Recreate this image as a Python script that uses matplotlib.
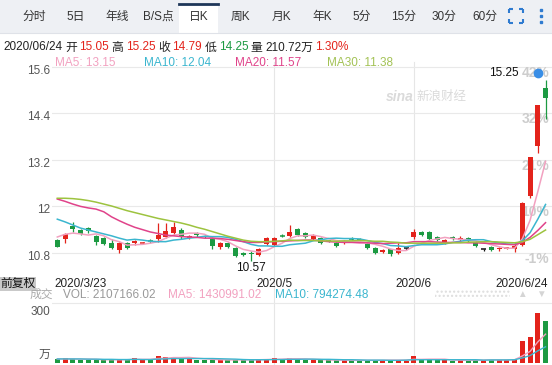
import matplotlib.pyplot as plt
import matplotlib.patches as patches
import matplotlib.transforms as mtransforms
import numpy as np

plt.rcParams['font.family'] = ['Liberation Sans', 'Noto Sans CJK SC', 'DejaVu Sans']

# Données (cours journaliers, 2020/3/23 -> 2020/6/24)
ouverture = [11.12, 11.15, 11.48, 11.38, 11.43, 11.23, 11.17, 11.05, 10.86, 11.05,
             11.05, 11.05, 11.11, 11.15, 11.20, 11.30, 11.38, 11.17, 11.30, 11.22,
             11.15, 10.94, 11.05, 10.92, 10.79, 10.80, 10.74, 11.02, 11.00, 11.24,
             11.23, 11.40, 11.30, 11.15, 11.17, 11.10, 11.05, 11.05, 11.16, 11.15,
             11.02, 10.92, 10.81, 10.89, 10.79, 10.92, 11.20, 11.33, 11.33, 11.20,
             11.05, 11.20, 11.12, 11.17, 11.05, 10.89, 10.94, 10.89, 10.91, 10.89,
             11.00, 12.25, 13.55, 15.05]
haut = [11.15, 11.30, 11.60, 11.40, 11.46, 11.25, 11.20, 11.15, 11.07, 11.08,
        11.12, 11.08, 11.15, 11.56, 11.56, 11.58, 11.42, 11.25, 11.33, 11.26,
        11.20, 11.07, 11.07, 10.95, 10.81, 10.85, 10.92, 11.20, 11.20, 11.28,
        11.51, 11.42, 11.32, 11.28, 11.19, 11.12, 11.07, 11.12, 11.20, 11.17,
        11.05, 10.93, 10.88, 10.90, 11.05, 10.92, 11.40, 11.36, 11.35, 11.22,
        11.14, 11.23, 11.22, 11.20, 11.10, 10.89, 10.97, 10.94, 10.94, 11.07,
        12.10, 13.27, 14.60, 15.25]
bas = [10.93, 11.05, 11.33, 11.25, 11.30, 10.99, 11.00, 10.90, 10.80, 10.88,
       10.99, 11.03, 11.05, 11.07, 11.18, 11.25, 11.15, 11.15, 11.20, 11.17,
       10.90, 10.89, 10.92, 10.69, 10.72, 10.57, 10.70, 11.00, 10.97, 11.19,
       11.20, 11.22, 11.18, 11.13, 11.02, 11.07, 10.95, 11.03, 11.12, 11.08,
       10.90, 10.76, 10.79, 10.71, 10.77, 10.86, 11.15, 11.22, 11.12, 11.10,
       11.03, 11.12, 11.10, 11.08, 10.95, 10.84, 10.84, 10.84, 10.88, 10.81,
       10.97, 12.20, 13.37, 14.25]
cloture = [10.95, 11.28, 11.41, 11.28, 11.35, 11.07, 11.02, 10.92, 11.05, 10.91,
           11.10, 11.06, 11.09, 11.25, 11.36, 11.47, 11.20, 11.23, 11.25, 11.20,
           10.97, 11.05, 10.94, 10.71, 10.74, 10.76, 10.89, 11.17, 11.17, 11.22,
           11.33, 11.25, 11.20, 11.23, 11.05, 11.09, 10.97, 11.10, 11.14, 11.10,
           10.92, 10.79, 10.86, 10.76, 10.92, 10.92, 11.33, 11.25, 11.15, 11.12,
           11.12, 11.15, 11.17, 11.10, 10.97, 10.89, 10.86, 10.92, 10.92, 10.97,
           12.07, 13.27, 14.60, 14.79]

# Moyennes mobiles
ma5 = [11.20, 11.27, 11.30, 11.28, 11.25, 11.28, 11.23, 11.13, 11.08, 10.99,
       11.00, 11.01, 11.04, 11.08, 11.17, 11.25, 11.27, 11.30, 11.30, 11.27,
       11.17, 11.14, 11.08, 10.97, 10.88, 10.84, 10.81, 10.85, 10.95, 11.04,
       11.16, 11.23, 11.23, 11.25, 11.21, 11.16, 11.11, 11.09, 11.07, 11.08,
       11.05, 11.01, 10.96, 10.89, 10.85, 10.85, 10.96, 11.04, 11.11, 11.15,
       11.19, 11.16, 11.14, 11.13, 11.10, 11.06, 11.00, 10.95, 10.91, 10.91,
       11.15, 11.63, 12.37, 13.15]
ma10 = [11.66, 11.59, 11.51, 11.43, 11.38, 11.33, 11.28, 11.23, 11.17, 11.12,
        11.14, 11.12, 11.09, 11.08, 11.08, 11.12, 11.14, 11.17, 11.19, 11.22,
        11.21, 11.21, 11.19, 11.14, 11.08, 11.01, 10.97, 10.97, 10.96, 10.96,
        11.00, 11.02, 11.04, 11.10, 11.13, 11.16, 11.17, 11.16, 11.16, 11.15,
        11.11, 11.06, 11.03, 10.98, 10.97, 10.95, 10.98, 11.00, 11.00, 11.00,
        11.02, 11.06, 11.09, 11.12, 11.13, 11.13, 11.08, 11.05, 11.02, 11.01,
        11.10, 11.31, 11.66, 12.04]
ma20 = [12.18, 12.12, 12.05, 11.99, 11.95, 11.92, 11.85, 11.72, 11.62, 11.53,
        11.45, 11.39, 11.33, 11.29, 11.25, 11.23, 11.21, 11.20, 11.19, 11.17,
        11.17, 11.16, 11.14, 11.11, 11.08, 11.06, 11.06, 11.07, 11.08, 11.09,
        11.10, 11.11, 11.12, 11.12, 11.10, 11.08, 11.07, 11.06, 11.06, 11.05,
        11.05, 11.04, 11.03, 11.04, 11.05, 11.05, 11.08, 11.08, 11.08, 11.07,
        11.06, 11.06, 11.06, 11.05, 11.05, 11.04, 11.03, 11.02, 11.01, 11.00,
        11.06, 11.19, 11.37, 11.57]
ma30 = [12.20, 12.20, 12.19, 12.17, 12.14, 12.10, 12.05, 12.00, 11.94, 11.88,
        11.83, 11.78, 11.73, 11.68, 11.64, 11.60, 11.56, 11.51, 11.45, 11.40,
        11.34, 11.28, 11.22, 11.17, 11.12, 11.09, 11.08, 11.08, 11.09, 11.10,
        11.12, 11.11, 11.11, 11.11, 11.10, 11.10, 11.09, 11.10, 11.10, 11.11,
        11.10, 11.09, 11.09, 11.07, 11.06, 11.04, 11.04, 11.04, 11.04, 11.04,
        11.04, 11.05, 11.05, 11.07, 11.07, 11.08, 11.08, 11.07, 11.06, 11.05,
        11.08, 11.14, 11.26, 11.38]

# Volumes (en 万)
volume = [16, 22, 16, 15, 14, 13, 14, 12, 15, 14,
          24, 13, 14, 33, 26, 29, 22, 18, 15, 13,
          14, 12, 13, 15, 12, 12, 16, 18, 24, 14,
          21, 16, 14, 13, 12, 11, 12, 11, 11, 10,
          12, 13, 12, 11, 12, 10, 34, 14, 13, 12,
          11, 10, 11, 12, 14, 13, 15, 13, 12, 16,
          110, 130, 251, 210.72]
vol_ma5 = [18, 18, 18, 17, 17, 16, 14, 14, 14, 14,
           16, 16, 16, 20, 22, 25, 25, 26, 22, 19,
           16, 14, 13, 13, 13, 13, 14, 15, 16, 17,
           19, 19, 18, 16, 15, 13, 12, 12, 11, 11,
           11, 11, 11, 12, 12, 12, 16, 16, 17, 17,
           17, 12, 12, 11, 12, 12, 13, 13, 13, 14,
           33, 56, 104, 143.1]
vol_ma10 = [18, 18, 18, 18, 17, 17, 16, 16, 15, 15,
            16, 15, 15, 17, 18, 20, 20, 20, 20, 20,
            20, 19, 18, 17, 15, 14, 14, 14, 15, 15,
            16, 16, 17, 17, 16, 16, 15, 14, 14, 13,
            12, 12, 12, 11, 11, 12, 14, 14, 14, 14,
            14, 14, 14, 14, 14, 12, 13, 13, 13, 14,
            23, 35, 59, 79.4]

date_idx = [0, 28, 46, 63]
date_lbl = ['2020/3/23', '2020/5', '2020/6', '2020/6/24']
grille_prix = [15.6, 14.4, 13.2, 12, 10.8]
onglets = ['分时', '5日', '年线', 'B/S点', '日K', '周K', '月K', '年K', '5分', '15分', '30分', '60分']

ROUGE = '#e3231b'
VERT = '#1c9a42'
C_MA5, C_MA10, C_MA20, C_MA30 = '#f2a1c0', '#3bb6cf', '#e0438a', '#9dc33f'

W, H = 552, 365
fig = plt.figure(figsize=(W / 100, H / 100), dpi=100)
fig.patch.set_facecolor('white')

# axes de fond en pixels (y vers le bas)
bg = fig.add_axes([0, 0, 1, 1])
bg.axis('off')


def ax_pixels(x0, y0, x1, y1):
    return fig.add_axes([x0 / W, (H - y1) / H, (x1 - x0) / W, (y1 - y0) / H], facecolor='none')


ax = ax_pixels(52, 62, 552, 272)
axv = ax_pixels(52, 298, 552, 362.5)
n = len(cloture)
xs = np.arange(n)
for a in (ax, axv):
    a.axis('off')
    a.set_xlim((52 - 57.3) / 7.75, (552 - 57.3) / 7.75)
ax.set_ylim(12 - 66 / 38.75, 12 + 144 / 38.75)
axv.set_ylim(0, 64.5 / 0.198)

# bandeau des onglets
bg.add_patch(patches.Rectangle((0, 0), W, 33, color='#eef0f4', lw=0))
bg.plot([0, W], [33, 33], color='#dfe2e8', lw=0.8)
bg.add_patch(patches.Rectangle((179, 3), 39, 30, color='white', lw=0))
bg.plot([179, 218], [4, 4], color='#1d3658', lw=2)
pos_onglets = [34.5, 76, 117, 158, 199, 240, 281, 322, 362, 403.5, 443.5, 485]
for lbl, px in zip(onglets, pos_onglets):
    bg.text(px, 17, lbl, ha='center', va='center', fontsize=8.5, color='#333333')
bleu = '#2f7bd0'
for (cx, cy, dx, dy) in [(509, 9, 1, 1), (523, 9, -1, 1), (509, 23, 1, -1), (523, 23, -1, -1)]:
    bg.plot([cx, cx + 4 * dx], [cy, cy], color=bleu, lw=1.5, solid_capstyle='butt')
    bg.plot([cx, cx], [cy, cy + 4 * dy], color=bleu, lw=1.5, solid_capstyle='butt')
for cy in [10, 16, 22]:
    bg.plot(541, cy, 's', color=bleu, ms=2)


# texte enchaîné morceau par morceau
def texte_enchaine(morceaux, x, y, gap=3.0, fs=8.5):
    renderer = fig.canvas.get_renderer()
    for s, col in morceaux:
        t = bg.text(x, y, s, color=col, fontsize=fs, va='center', ha='left')
        x += t.get_window_extent(renderer=renderer).width + gap


pct = (cloture[-1] / cloture[-2] - 1) * 100
texte_enchaine([('2020/06/24', '#222222'), ('开', '#222222'), ('%.2f' % ouverture[-1], ROUGE),
                ('高', '#222222'), ('%.2f' % haut[-1], ROUGE), ('收', '#222222'),
                ('%.2f' % cloture[-1], ROUGE), ('低', '#222222'), ('%.2f' % bas[-1], VERT),
                ('量', '#222222'), ('%.2f万' % volume[-1], '#222222'), ('%.2f%%' % pct, ROUGE)],
               3.5, 47.5, gap=2.5)
for x0, lbl, val, col in [(55, 'MA5', ma5[-1], C_MA5), (144, 'MA10', ma10[-1], C_MA10),
                          (235, 'MA20', ma20[-1], C_MA20), (327, 'MA30', ma30[-1], '#a3c255')]:
    bg.text(x0, 63, '%s: %.2f' % (lbl, val), color=col, fontsize=8.5, va='center')

# filigrane
bg.text(386, 97, 'sina', fontsize=10, fontstyle='italic', fontweight='bold', color='#dadada', va='center')
bg.text(416, 97, '新浪财经', fontsize=9, color='#dadada', va='center')

# grilles
for g in grille_prix:
    ax.axhline(g, color='#e9e9e9', lw=0.8, zorder=0)
axv.axhline(300, color='#e9e9e9', lw=0.8, zorder=0)
tr_v = mtransforms.blended_transform_factory(ax.transData, bg.transData)
for k in date_idx[1:3]:
    bg.plot([k, k], [62, H], color='#e6e6e6', lw=0.8, transform=tr_v)

# étiquettes de l'axe des prix
tr_g = mtransforms.offset_copy(ax.get_yaxis_transform(), fig=fig, x=-2, y=-4, units='dots')
tr_d = mtransforms.offset_copy(ax.get_yaxis_transform(), fig=fig, x=-3, y=-6, units='dots')
for g in grille_prix:
    ax.text(0, g, ('%g' % g), transform=tr_g, ha='right', va='center', fontsize=8.5, color='#555555')
    ax.text(1, g, '%d%%' % round((g / cloture[0] - 1) * 100), transform=tr_d, ha='right',
            va='center', fontsize=10, color='#cdcdcd', fontweight='bold')

# chandeliers
larg = 0.64
for i in range(n):
    o, h, l, c = ouverture[i], haut[i], bas[i], cloture[i]
    col = ROUGE if c > o else (VERT if c < o else '#111111')
    ax.vlines(i, l, h, color=col, lw=0.9, zorder=3)
    if abs(c - o) < 0.02:
        ax.hlines((o + c) / 2, i - larg / 2, i + larg / 2, color=col, lw=1.1, zorder=4)
    else:
        ax.bar(i, abs(c - o), bottom=min(o, c), width=larg, color=col, lw=0, zorder=4)
    axv.bar(i, volume[i], width=larg, color=ROUGE if c >= o else VERT, lw=0, zorder=3)

ax.plot(xs, ma5, color=C_MA5, lw=1.1, zorder=5)
ax.plot(xs, ma10, color=C_MA10, lw=1.1, zorder=5)
ax.plot(xs, ma20, color=C_MA20, lw=1.1, zorder=5)
ax.plot(xs, ma30, color=C_MA30, lw=1.1, zorder=5)
axv.plot(xs, vol_ma5, color=C_MA5, lw=1.0, zorder=5)
axv.plot(xs, vol_ma10, color=C_MA10, lw=1.0, zorder=5)

# plus haut / plus bas (le texte du plus haut est décalé à gauche de l'étiquette 42%)
i_max = int(np.argmax(haut))
i_min = int(np.argmin(bas))
ax.text(i_max, haut[i_max], '%.2f' % haut[i_max], ha='right', va='center', fontsize=8.5, color='#111111',
        transform=mtransforms.offset_copy(ax.transData, fig=fig, x=-27, y=7, units='dots'), zorder=6)
ax.plot(i_max, haut[i_max], 'o', color='#3a8ee6', ms=6, clip_on=False, zorder=7,
        transform=mtransforms.offset_copy(ax.transData, fig=fig, x=-8, y=7, units='dots'))
ax.text(i_min, bas[i_min], '%.2f' % bas[i_min], ha='center', va='top', fontsize=8.5, color='#111111',
        transform=mtransforms.offset_copy(ax.transData, fig=fig, x=0, y=-1, units='dots'), clip_on=False)

# dates
bg.text(0, 284, '前复权', fontsize=8.5, color='#111111', va='center', ha='left',
        bbox=dict(boxstyle='square,pad=0.1', fc='#c9c9c9', ec='none'))
for k, lbl in zip(date_idx, date_lbl):
    ha = 'left' if k == date_idx[0] else ('right' if k == date_idx[-1] else 'center')
    dx = -0.35 if k == date_idx[0] else (0.35 if k == date_idx[-1] else 0)
    bg.text(k + dx, 284, lbl, ha=ha, va='center', fontsize=8.5, color='#222222', transform=tr_v)

# en-tête du volume
bg.text(30, 295, '成交', fontsize=8.5, color='#aaaaaa', va='center')
bg.text(63, 295, 'VOL: 2107166.02', fontsize=8.5, color='#999999', va='center')
bg.text(168, 295, 'MA5: 1430991.02', fontsize=8.5, color=C_MA5, va='center')
bg.text(275, 295, 'MA10: 794274.48', fontsize=8.5, color=C_MA10, va='center')
bg.add_patch(patches.Rectangle((435, 290), 75, 9, fill=False, hatch='....', edgecolor='#dddddd', lw=0))
bg.text(522, 294, '▲', fontsize=7, color='#d5d5d5', ha='center', va='center')
bg.text(541, 294, '▼', fontsize=7, color='#d5d5d5', ha='center', va='center')
tr_vg = mtransforms.offset_copy(axv.get_yaxis_transform(), fig=fig, x=-2, y=-9, units='dots')
axv.text(0, 300, '300', transform=tr_vg, ha='right', va='center', fontsize=8.5, color='#555555')
bg.text(50, 355, '万', ha='right', va='center', fontsize=8.5, color='#555555')

bg.set_xlim(0, W)
bg.set_ylim(H, 0)

fig.savefig('out.png', dpi=100)
